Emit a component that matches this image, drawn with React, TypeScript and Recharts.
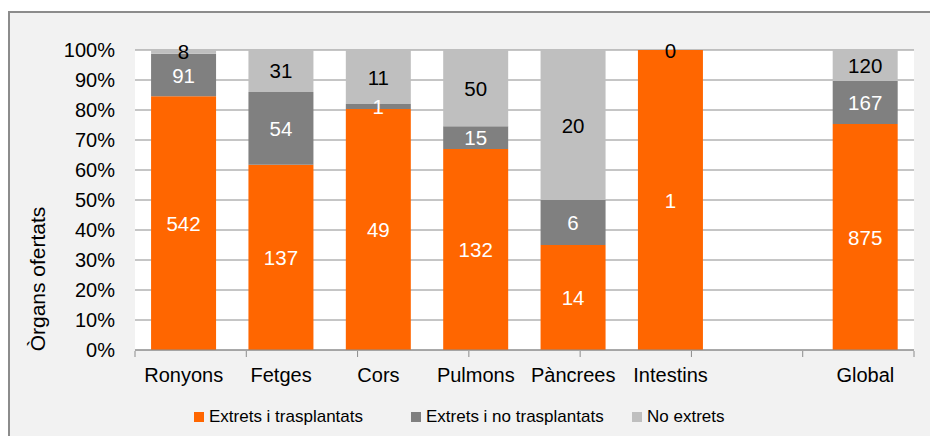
import { Bar, BarChart, CartesianGrid, Label, LabelList, Legend, XAxis, YAxis } from "recharts";

// Organ donation outcome per organ, as counts; the chart stacks them to 100%.
const organs = ["Ronyons", "Fetges", "Cors", "Pulmons", "Pàncrees", "Intestins", "", "Global"];
const trasplantats = [542, 137, 49, 132, 14, 1, 0, 875];
const noTrasplantats = [91, 54, 1, 15, 6, 0, 0, 167];
const noExtrets = [8, 31, 11, 50, 20, 0, 0, 120];

const percentTicks = [0, 0.1, 0.2, 0.3, 0.4, 0.5, 0.6, 0.7, 0.8, 0.9, 1];
const edgeTicks = [0, 1, 2, 3, 4, 5, 6, 7, 8];

const series = [
  { key: "trasp", name: "Extrets i trasplantats", values: trasplantats, color: "#ff6600", text: "#ffffff" },
  { key: "noTrasp", name: "Extrets i no trasplantats", values: noTrasplantats, color: "#808080", text: "#ffffff" },
  { key: "noExt", name: "No extrets", values: noExtrets, color: "#bfbfbf", text: "#000000" },
];

// the blank spacer column keeps null labels so nothing is printed there.
// Recharts drops zero-height segments, so an empty "No extrets" on top of a
// full orange bar (Intestins) gets its 0 printed at the top of the orange one.
const data = organs.map((organ, i) => {
  const row: Record<string, any> = { organ };
  series.forEach((s) => {
    row[s.key] = s.values[i];
    row[s.key + "Label"] = organ ? s.values[i] : null;
  });
  row.zeroTop = organ && noExtrets[i] === 0 && noTrasplantats[i] === 0 ? noExtrets[i] : null;
  return row;
});

const FONT = "'Liberation Sans', Arial, sans-serif";
const GRID = "#8c8c8c";

const makeLabel = (fill: string, atTop = false) => (props: any) => {
  const { x, y, width, height, value } = props;
  if (value == null) return <g />;
  return (
    <text
      x={Number(x) + Number(width) / 2}
      y={atTop ? Number(y) : Number(y) + Number(height) / 2}
      textAnchor="middle"
      dominantBaseline="central"
      fill={fill}
      fontSize={20.5}
      fontFamily={FONT}
    >
      {value}
    </text>
  );
};

const AxisTitle = () => (
  <text
    x={27}
    y={266}
    transform="rotate(-90 27 266)"
    textAnchor="middle"
    dominantBaseline="central"
    fontSize={21}
    fontFamily={FONT}
    fill="#000"
  >
    Òrgans ofertats
  </text>
);

const legendWidths = [217, 221, 120];

const LegendRow = () => (
  <div
    style={{
      display: "flex",
      alignItems: "center",
      paddingLeft: 184,
      fontFamily: FONT,
      fontSize: 17,
      color: "#000",
    }}
  >
    {series.map((s, i) => (
      <div key={s.key} style={{ display: "flex", alignItems: "center", width: legendWidths[i] }}>
        <span style={{ width: 10, height: 10, background: s.color, marginRight: 5, display: "inline-block" }} />
        <span>{s.name}</span>
      </div>
    ))}
  </div>
);

export default function App() {
  return (
    <div
      style={{
        marginTop: 3,
        width: 928,
        height: 423,
        borderTop: `2px solid ${GRID}`,
        borderLeft: `2px solid ${GRID}`,
        background: "#f2f2f2",
      }}
    >
      <BarChart
        width={928}
        height={423}
        data={data}
        stackOffset="expand"
        barCategoryGap="16.5%"
        margin={{ top: 37, right: 24, bottom: 84, left: 0 }}
      >
        <CartesianGrid vertical={false} stroke={GRID} fill="#ffffff" />
        <XAxis
          xAxisId="cat"
          dataKey="organ"
          height={1}
          interval={0}
          axisLine={{ stroke: GRID }}
          tickLine={false}
          tickSize={0}
          tickMargin={18}
          tick={{ fill: "#000", fontSize: 20, fontFamily: FONT }}
        />
        <XAxis
          xAxisId="edges"
          type="number"
          domain={[0, 8]}
          ticks={edgeTicks}
          interval={0}
          height={1}
          axisLine={false}
          tickLine={{ stroke: GRID }}
          tickSize={6}
          tickFormatter={() => ""}
          allowDataOverflow
        />
        <YAxis
          width={125}
          domain={[0, 1]}
          ticks={percentTicks}
          interval={0}
          axisLine={false}
          tickLine={false}
          tickSize={0}
          tickMargin={20}
          tickFormatter={(v: number) => `${Math.round(v * 100)}%`}
          tick={{ fill: "#000", fontSize: 20, fontFamily: FONT }}
        >
          <Label content={AxisTitle} />
        </YAxis>
        {series.map((s) => (
          <Bar
            key={s.key}
            xAxisId="cat"
            dataKey={s.key}
            name={s.name}
            stackId="organs"
            fill={s.color}
            isAnimationActive={false}
          >
            <LabelList dataKey={s.key + "Label"} content={makeLabel(s.text)} />
            {s.key === "trasp" && <LabelList dataKey="zeroTop" content={makeLabel("#000000", true)} />}
          </Bar>
        ))}
        <Legend
          layout="horizontal"
          verticalAlign="middle"
          align="center"
          content={LegendRow}
          wrapperStyle={{ top: 394, left: 0, width: 928, height: 20 }}
        />
      </BarChart>
    </div>
  );
}
